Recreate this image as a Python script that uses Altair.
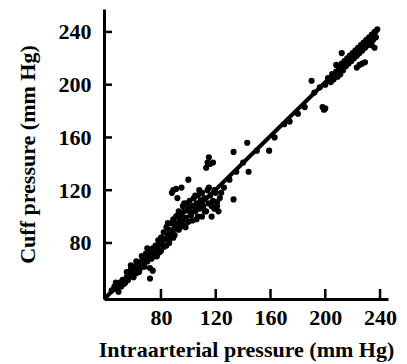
import altair as alt
import pandas as pd

# scatter points (intraarterial, cuff) in mm Hg
pt_x = [44, 46, 48, 50, 51, 52, 53, 55, 55, 56, 57, 58, 59, 60, 61, 62, 63, 64, 65, 66,
        66, 67, 68, 69, 70, 71, 72, 72, 73, 74, 72, 74, 75, 76, 77, 78, 78, 79, 80, 80,
        81, 82, 83, 84, 84, 85, 86, 87, 88, 88, 89, 90, 90, 91, 92, 93, 93, 94, 95, 96,
        96, 97, 98, 99, 100, 100, 101, 102, 103, 104, 105, 106, 106, 107, 108, 109, 110, 110, 111, 112,
        113, 114, 115, 116, 117, 118, 119, 120, 122, 123,
        47, 49, 54, 58, 60, 62, 64, 68, 70, 76, 79, 82, 85, 86, 89, 92,
        94, 97, 98, 101, 103, 105, 107, 108, 111, 112, 115, 117, 119, 121, 124, 126,
        88, 89, 91, 92, 95, 100, 115, 114, 113, 118, 116, 121,
        133, 143, 144, 133, 159, 163, 174, 185, 190, 192, 196, 198, 199, 200,
        130, 135, 140, 150, 170, 180,
        200, 202, 204, 205, 206, 208, 209, 210, 211, 212, 213, 214, 215, 216, 217, 218, 219, 220,
        221, 222, 223, 224, 225, 226, 227, 228, 229, 230, 231, 232, 233, 234, 235, 236, 237, 238,
        234, 236, 225, 227, 229, 223, 212, 208]
pt_y = [44, 47, 45, 50, 47, 52, 49, 54, 58, 52, 56, 60, 55, 58, 62, 57, 60, 64, 61, 66,
        70, 63, 67, 72, 66, 70, 74, 61, 68, 59, 53, 76, 72, 78, 70, 75, 82, 79, 84, 74,
        80, 88, 83, 78, 92, 86, 90, 84, 95, 88, 98, 92, 86, 100, 95, 90, 104, 98, 102, 94,
        108, 104, 99, 110, 106, 96, 112, 101, 108, 114, 104, 110, 98, 116, 106, 112, 100, 118, 108, 114,
        104, 120, 110, 116, 100, 112, 106, 118, 104, 114,
        50, 43, 50, 63, 54, 66, 58, 62, 76, 70, 73, 77, 95, 80, 84, 101,
        92, 110, 92, 104, 97, 116, 100, 120, 113, 104, 122, 108, 120, 108, 118, 122,
        118, 120, 121, 114, 122, 128, 145, 141, 137, 141, 140, 111,
        149, 156, 134, 113, 150, 160, 172, 183, 203, 194, 198, 183, 181, 182,
        128, 134, 141, 150, 170, 178,
        200, 205, 202, 208, 204, 210, 206, 213, 208, 216, 211, 218, 214, 220, 216, 222, 218, 224,
        220, 226, 222, 228, 224, 230, 226, 232, 228, 234, 230, 236, 232, 238, 234, 240, 236, 242,
        230, 228, 215, 216, 217, 213, 224, 215]

# regression line end points
line_x = [38.5, 238.0]
line_y = [37.5, 240.5]

tick_vals = [80, 120, 160, 200, 240]

FONT = "Liberation Serif"

pts = pd.DataFrame({"x": pt_x, "y": pt_y})
line_df = pd.DataFrame({"x": line_x, "y": line_y})
xt = pd.DataFrame({"x": tick_vals})
yt = pd.DataFrame({"y": tick_vals})

xscale = alt.Scale(domain=[38.4, 245.8], nice=False, zero=False)
yscale = alt.Scale(domain=[37.5, 257.4], nice=False, zero=False)

xaxis = alt.Axis(values=tick_vals, title="Intraarterial pressure (mm Hg)", grid=False,
                 ticks=False, labelPadding=8, titlePadding=11)
yaxis = alt.Axis(values=tick_vals, title="Cuff pressure (mm Hg)", grid=False,
                 ticks=False, labelPadding=13, titlePadding=19)

points = alt.Chart(pts).mark_circle(size=38, color="black", opacity=1).encode(
    x=alt.X("x:Q", scale=xscale, axis=xaxis),
    y=alt.Y("y:Q", scale=yscale, axis=yaxis),
)

line = alt.Chart(line_df).mark_line(color="black", strokeWidth=4).encode(
    x=alt.X("x:Q", scale=xscale),
    y=alt.Y("y:Q", scale=yscale),
)

xticks = alt.Chart(xt).mark_rule(color="black", strokeWidth=2.5).encode(
    x=alt.X("x:Q", scale=xscale),
    y=alt.value(290),
    y2=alt.value(280),
)

yticks = alt.Chart(yt).mark_rule(color="black", strokeWidth=2.5).encode(
    y=alt.Y("y:Q", scale=yscale),
    x=alt.value(0),
    x2=alt.value(8),
)

chart = alt.layer(points, line, xticks, yticks).properties(
    width=284,
    height=290,
    padding={"left": 96, "top": 1, "right": 10, "bottom": 63},
    autosize=alt.AutoSizeParams(type="none"),
).configure_view(stroke=None).configure_axis(
    domainColor="black",
    domainWidth=3,
    labelFont=FONT,
    labelFontSize=22,
    labelFontWeight="bold",
    labelColor="black",
    titleFont=FONT,
    titleFontSize=22,
    titleFontWeight="bold",
    titleColor="black",
)

chart.save("out.html", embed_options={"renderer": "svg", "actions": False})
